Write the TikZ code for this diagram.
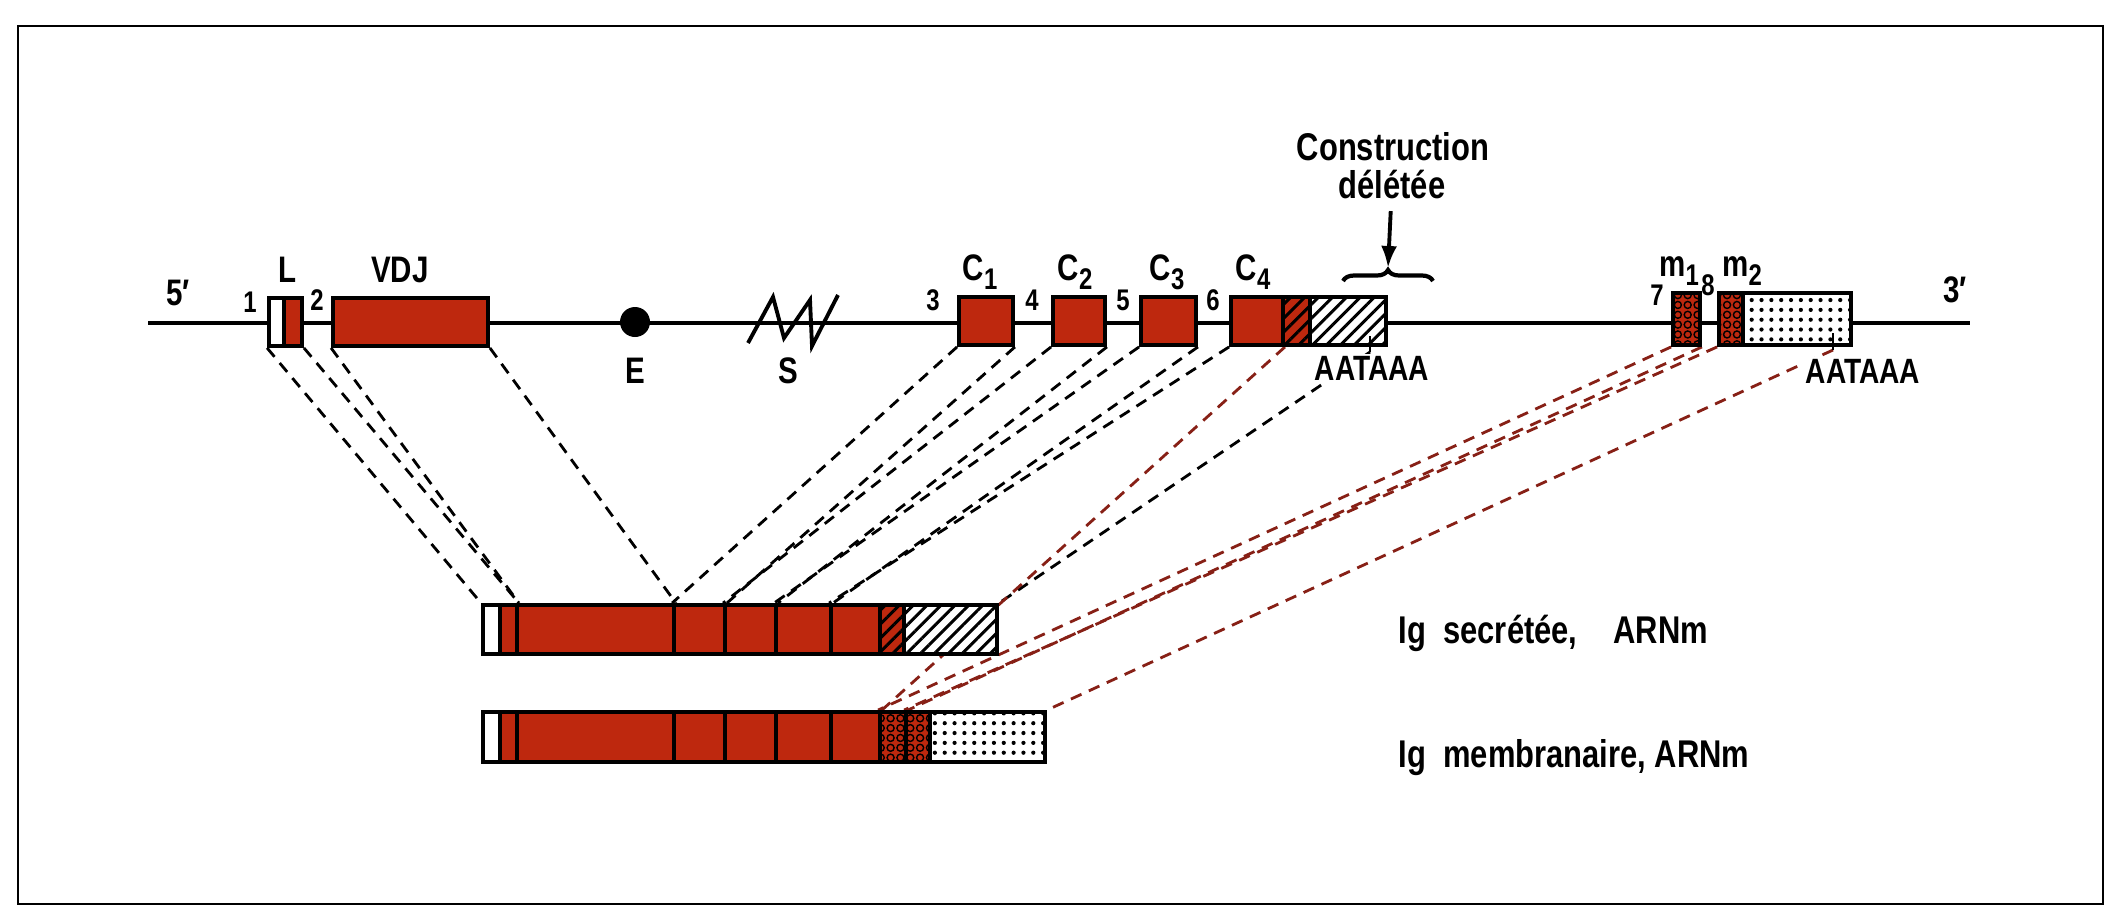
\documentclass[tikz,border=0pt]{standalone}
\usepackage{fontspec}
\setmainfont{Liberation Sans}[FakeStretch=0.8]
\usetikzlibrary{patterns,patterns.meta,arrows.meta,decorations.pathreplacing}
\pgfdeclarelayer{bg}
\pgfsetlayers{bg,main}
\definecolor{igred}{RGB}{190,40,14}
\definecolor{linkred}{RGB}{135,32,22}
\newcommand\subnum[1]{\raisebox{-0.5ex}{\fontsize{8.5}{9}\selectfont#1}}
\pgfdeclarepatternformonly{rings}{\pgfqpoint{-0.5pt}{-0.5pt}}{\pgfqpoint{3.3pt}{3.3pt}}{\pgfqpoint{2.8pt}{2.8pt}}{%
    \pgfsetlinewidth{0.4pt}%
    \pgfpathcircle{\pgfqpoint{1.4pt}{1.4pt}}{1pt}%
    \pgfusepath{stroke}}
\tikzset{
    seg/.style={rectangle, draw, line width=1.1pt, inner sep=0mm, minimum height=4.8mm},
    rseg/.style={seg, fill=igred},
    wseg/.style={seg, fill=white},
    rhseg/.style={seg, preaction={fill=igred}, pattern={Lines[angle=45,distance=2.8pt,line width=0.85pt]}},
    whseg/.style={seg, preaction={fill=white}, pattern={Lines[angle=45,distance=2.8pt,line width=0.85pt]}},
    ringseg/.style={seg, preaction={fill=igred}, pattern=rings},
    dotseg/.style={seg, preaction={fill=white}, pattern={Dots[radius=0.6pt,distance=2.8pt]}},
    dline/.style={line width=0.8pt, dash pattern=on 3.3pt off 2.3pt},
    rline/.style={dline, draw=linkred},
    lab/.style={inner sep=0pt, anchor=base, font=\fontsize{10.5}{12}\selectfont\bfseries},
    num/.style={lab, font=\fontsize{8.5}{10}\selectfont\bfseries},
    poly/.style={lab, fill=white, inner sep=0.5pt, font=\fontsize{10}{11}\selectfont\bfseries},
    big/.style={lab, font=\fontsize{11}{13}\selectfont\bfseries}
}
\begin{document}
\begin{tikzpicture}[x=0.1mm, y=-0.1mm]
        \useasboundingbox (0,0) rectangle (2117,920);
        \draw[line width=0.8pt] (18,26) rectangle (2103,904);
        \coordinate (p5) at (148,323);
        \coordinate (p3) at (1970,323);
        \coordinate (pa1) at (1370,352);
        \coordinate (pa2) at (1833,350);
        \coordinate (brtip) at (1388,268);
        % gene
        \node[wseg, minimum width=1.5mm] (g0) at (276.5,322) {};
        \node[rseg, minimum width=1.8mm] (g1) at (293,322) {};
        \node[rseg, minimum width=15.5mm] (g2) at (410.5,322) {};
        \node[circle, fill, inner sep=0mm, minimum size=3mm] (e) at (635,322) {};
        \node[rseg, minimum width=5.4mm] (g3) at (986,321) {};
        \node[rseg, minimum width=5.2mm] (g4) at (1079,321) {};
        \node[rseg, minimum width=5.5mm] (g5) at (1168.5,321) {};
        \node[rseg, minimum width=5.2mm] (g6) at (1257,321) {};
        \node[rhseg, minimum width=2.7mm] (g7) at (1296.5,321) {};
        \node[whseg, minimum width=7.6mm] (g8) at (1348,321) {};
        \node[ringseg, minimum width=2.7mm, minimum height=5.2mm] (g9) at (1686.5,319) {};
        \node[ringseg, minimum width=2.4mm, minimum height=5.2mm] (g10) at (1731,319) {};
        \node[dotseg, minimum width=10.8mm, minimum height=5.2mm] (g11) at (1797,319) {};
        \draw[line width=1.1pt] (748,343) -- (773,297) -- (784,338) -- (810,300) -- (812,346) -- (838,295);
        \draw[line width=0.8pt] (1370,336) -- (pa1);
        \draw[line width=0.8pt] (1833,333) -- (pa2);
        \draw[line width=1.2pt, decorate, decoration={brace, amplitude=1.1mm}] (1343,281) -- (1433,281);
        % secreted
        \node[wseg, minimum width=1.7mm, minimum height=4.9mm] (s0) at (491.5,629.5) {};
        \node[rseg, minimum width=1.7mm, minimum height=4.9mm] (s1) at (508.5,629.5) {};
        \node[rseg, minimum width=15.7mm, minimum height=4.9mm] (s2) at (595.5,629.5) {};
        \node[rseg, minimum width=5.1mm, minimum height=4.9mm] (s3) at (699.5,629.5) {};
        \node[rseg, minimum width=5.1mm, minimum height=4.9mm] (s4) at (750.5,629.5) {};
        \node[rseg, minimum width=5.5mm, minimum height=4.9mm] (s5) at (803.5,629.5) {};
        \node[rseg, minimum width=4.9mm, minimum height=4.9mm] (s6) at (855.5,629.5) {};
        \node[rhseg, minimum width=2.4mm, minimum height=4.9mm] (s7) at (892,629.5) {};
        \node[whseg, minimum width=9.3mm, minimum height=4.9mm] (s8) at (950.5,629.5) {};
        % membrane
        \node[wseg, minimum width=1.7mm, minimum height=5mm] (t0) at (491.5,737) {};
        \node[rseg, minimum width=1.7mm, minimum height=5mm] (t1) at (508.5,737) {};
        \node[rseg, minimum width=15.7mm, minimum height=5mm] (t2) at (595.5,737) {};
        \node[rseg, minimum width=5.1mm, minimum height=5mm] (t3) at (699.5,737) {};
        \node[rseg, minimum width=5.1mm, minimum height=5mm] (t4) at (750.5,737) {};
        \node[rseg, minimum width=5.5mm, minimum height=5mm] (t5) at (803.5,737) {};
        \node[rseg, minimum width=4.9mm, minimum height=5mm] (t6) at (855.5,737) {};
        \node[ringseg, minimum width=2.6mm, minimum height=5mm] (t7) at (893,737) {};
        \node[ringseg, minimum width=2.4mm, minimum height=5mm] (t8) at (918,737) {};
        \node[dotseg, minimum width=11.5mm, minimum height=5mm] (t9) at (987.5,737) {};
        % labels
        \node[lab] (l5) at (178,305) {5′};
        \node[num] (n1) at (250,312) {1};
        \node[lab] (lL) at (288,282) {L};
        \node[num] (n2) at (317,310) {2};
        \node[lab] (lvdj) at (400,282) {VDJ};
        \node[lab] (lE) at (635,383) {E};
        \node[lab] (lS) at (788,383) {S};
        \node[num] (n3) at (933,310) {3};
        \node[lab] (lc1) at (980,280) {C\subnum{1}};
        \node[num] (n4) at (1032,310) {4};
        \node[lab] (lc2) at (1075,280) {C\subnum{2}};
        \node[num] (n5) at (1123,310) {5};
        \node[lab] (lc3) at (1167,280) {C\subnum{3}};
        \node[num] (n6) at (1213,310) {6};
        \node[lab] (lc4) at (1253,280) {C\subnum{4}};
        \node[num] (n7) at (1657,305) {7};
        \node[lab] (lm1) at (1679,276) {m\subnum{1}};
        \node[num] (n8) at (1708,295) {8};
        \node[lab] (lm2) at (1742,276) {m\subnum{2}};
        \node[lab] (l3) at (1955,302) {3′};
        \node[poly] (pa1t) at (1372,380) {AATAAA};
        \node[poly] (pa2t) at (1863,383) {AATAAA};
        \node[big] (cons1) at (1393,160) {Construction};
        \node[big] (cons2) at (1392,198) {délétée};
        \node[big, anchor=base west] (sec) at (1398,643) {Ig\ \ secrétée,\hspace{3.6mm}ARNm};
        \node[big, anchor=base west] (mem) at (1398,767) {Ig\ \ membranaire,\ ARNm};
        \draw[line width=1.1pt, -{Latex[length=2.2mm,width=1.6mm]}, shorten <=1.2mm] (cons2) -- (brtip);
        \begin{pgfonlayer}{bg}
                \draw (p5) edge [line width=1.1pt] (p3);
                \draw (g0.south west) edge [dline] (s0.north west);
                \draw (g1.south east) edge [dline] (s1.north east);
                \draw (g2.south west) edge [dline] (s1.north east);
                \draw (g2.south east) edge [dline] (s2.north east);
                \draw (g3.south west) edge [dline] (s3.north west);
                \draw (g3.south east) edge [dline] (s3.north east);
                \draw (g4.south west) edge [dline] (s4.north west);
                \draw (g4.south east) edge [dline] (s4.north east);
                \draw (g5.south west) edge [dline] (s5.north west);
                \draw (g5.south east) edge [dline] (s5.north east);
                \draw (g6.south west) edge [dline] (s6.north west);
                \draw (pa1) edge [dline] (s8.north east);
                \draw (g6.south east) edge [rline] (t6.north east);
                \draw (g9.south west) edge [rline] (t7.north west);
                \draw (g9.south east) edge [rline] (t7.north east);
                \draw (g10.south west) edge [rline] (t8.north west);
                \draw (pa2) edge [rline] (t9.north east);
        \end{pgfonlayer}
\end{tikzpicture}
\end{document}
